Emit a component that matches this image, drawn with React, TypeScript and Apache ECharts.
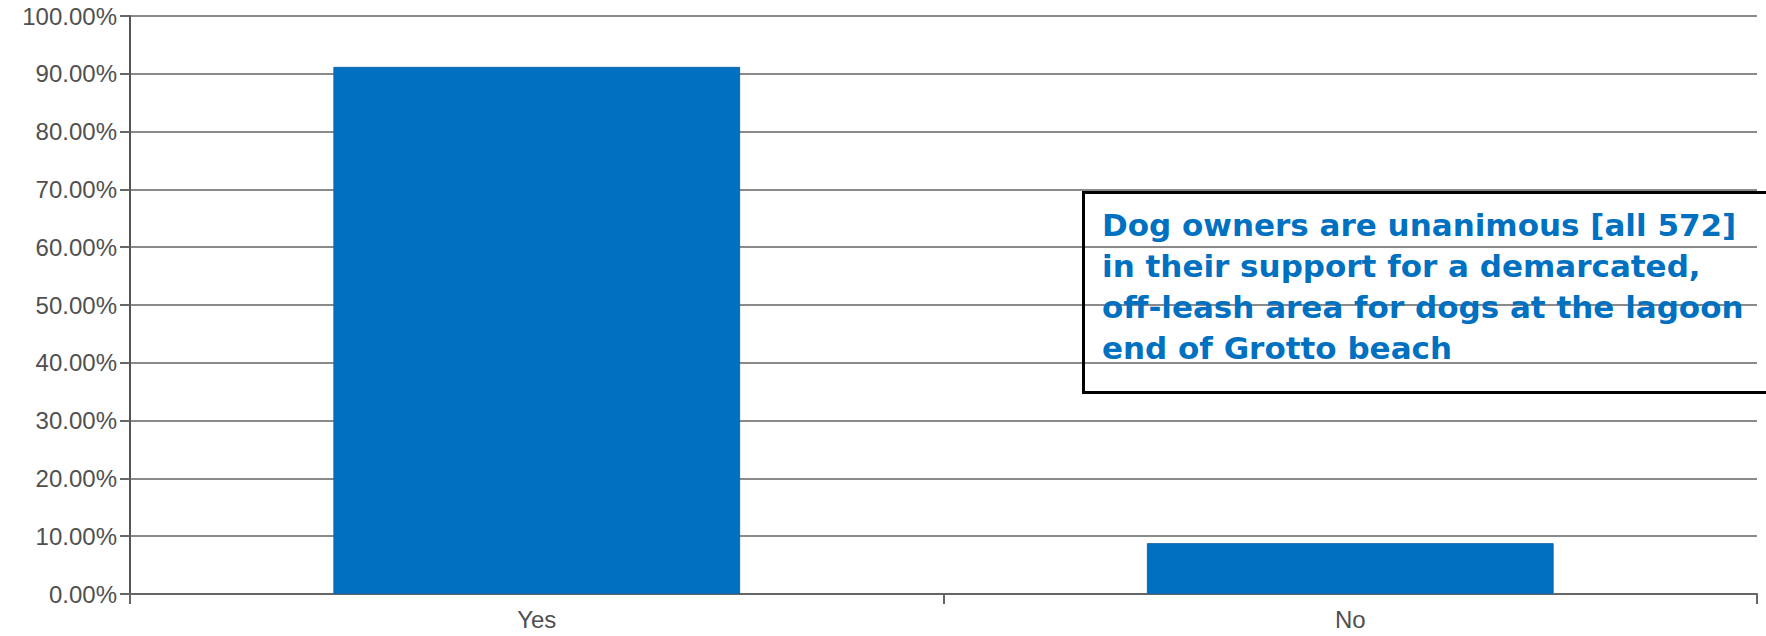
import React, { useEffect, useRef } from "react";
import * as echarts from "echarts";

const categories = ["Yes", "No"];
const values = [91.2, 8.8];
const yTicks = { min: 0, max: 100, interval: 10 };
const noteLines = [
  "Dog owners are unanimous [all 572]",
  "in their support for a demarcated,",
  "off-leash area for dogs at the lagoon",
  "end of Grotto beach",
];

export default function App() {
  const ref = useRef<HTMLDivElement>(null);
  useEffect(() => {
    document.body.style.margin = "0";
    const chart = echarts.init(ref.current!, null, { renderer: "svg" });
    const labelStyle = {
      color: "#505050",
      fontFamily: "Liberation Sans, Arial, sans-serif",
      fontSize: 24,
    };
    chart.setOption({
      animation: false,
      backgroundColor: "#ffffff",
      grid: { left: 130, right: 9, top: 16, bottom: 42, containLabel: false },
      xAxis: {
        type: "category",
        data: categories,
        boundaryGap: true,
        axisLine: { show: true, lineStyle: { color: "#666666", width: 2 } },
        axisTick: { show: true, length: 10, inside: false, lineStyle: { color: "#666666", width: 2 } },
        axisLabel: { ...labelStyle, margin: 13 },
      },
      yAxis: {
        type: "value",
        min: yTicks.min,
        max: yTicks.max,
        interval: yTicks.interval,
        axisLine: { show: true, lineStyle: { color: "#555555", width: 2 } },
        axisTick: { show: true, length: 10, inside: false, lineStyle: { color: "#666666", width: 2 } },
        splitLine: { show: true, lineStyle: { color: "#8a8a8a", width: 2 } },
        axisLabel: {
          ...labelStyle,
          margin: 13,
          formatter: (v: number) => v.toFixed(2) + "%",
        },
      },
      series: [
        {
          type: "bar",
          data: values,
          barCategoryGap: "50%",
          itemStyle: { color: "#0070C0", borderColor: "#1a64a8", borderWidth: 1 },
        },
      ],
      graphic: [
        {
          type: "rect",
          left: 1081,
          top: 190,
          shape: { x: 0, y: 0, width: 760, height: 200 },
          style: { fill: "none", stroke: "#000000", lineWidth: 3 },
          z: 100,
        },
        {
          type: "text",
          left: 1102,
          top: 204,
          style: {
            text: noteLines.join("\n"),
            fill: "#0070C0",
            font: "bold 31px 'DejaVu Sans', sans-serif",
            lineHeight: 41,
          },
          z: 101,
        },
      ],
    });
    return () => chart.dispose();
  }, []);
  return <div ref={ref} style={{ width: 1766, height: 636 }} />;
}
